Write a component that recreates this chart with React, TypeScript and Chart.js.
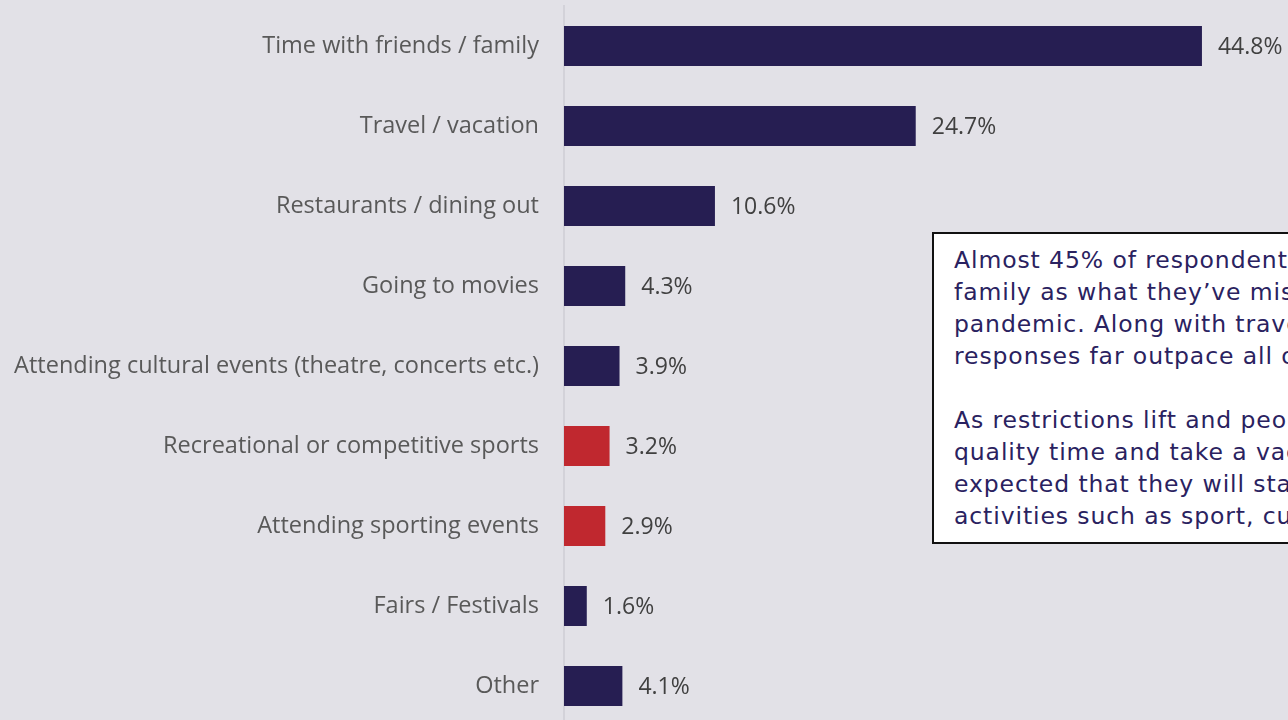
import React, { useEffect, useRef } from "react";
import { Chart, registerables } from "chart.js";

Chart.register(...registerables);

const categories = [
  "Time with friends / family",
  "Travel / vacation",
  "Restaurants / dining out",
  "Going to movies",
  "Attending cultural events (theatre, concerts etc.)",
  "Recreational or competitive sports",
  "Attending sporting events",
  "Fairs / Festivals",
  "Other",
];
const values = [44.8, 24.7, 10.6, 4.3, 3.9, 3.2, 2.9, 1.6, 4.1];
const highlighted = [false, false, false, false, false, true, true, false, false];

const noteParagraph1 = [
  "Almost 45% of respondents chose time with friends /",
  "family as what they\u2019ve missed most during the",
  "pandemic. Along with travel / vacation, these",
  "responses far outpace all other activities.",
];
const noteParagraph2 = [
  "As restrictions lift and people look to spend",
  "quality time and take a vacation, it is",
  "expected that they will start returning to",
  "activities such as sport, culture and events.",
];

const NAVY = "#261e52";
const RED = "#c0282f";
const BG = "#e2e1e7";

const valueLabels = {
  id: "valueLabels",
  afterDatasetsDraw(chart: any) {
    const ctx = chart.ctx;
    const meta = chart.getDatasetMeta(0);
    ctx.save();
    ctx.font = "23px 'Open Sans'";
    ctx.fillStyle = "#404040";
    ctx.textBaseline = "middle";
    ctx.textAlign = "left";
    meta.data.forEach((bar: any, i: number) => {
      ctx.fillText(values[i].toFixed(1) + "%", bar.x + 16, bar.y + 1);
    });
    ctx.restore();
  },
};

export default function App() {
  const ref = useRef<HTMLCanvasElement>(null);
  useEffect(() => {
    if (!ref.current) return;
    const chart = new Chart(ref.current, {
      type: "bar",
      data: {
        labels: categories,
        datasets: [
          {
            data: values,
            backgroundColor: highlighted.map((h) => (h ? RED : NAVY)),
            barPercentage: 0.5,
            categoryPercentage: 1,
          },
        ],
      },
      options: {
        indexAxis: "y",
        animation: false,
        responsive: false,
        layout: { padding: { top: 6, right: 12, bottom: 0, left: 0 } },
        plugins: { legend: { display: false }, tooltip: { enabled: false } },
        scales: {
          x: { display: false, min: 0, max: 50 },
          y: {
            afterFit: (scale: any) => {
              scale.width = 564;
              scale.paddingTop = 0;
              scale.paddingBottom = 0;
            },
            grid: { display: false, drawTicks: false },
            border: { display: true, color: "#d3d2d9", width: 2 },
            ticks: {
              color: "#595959",
              font: { family: "'Open Sans'", size: 23.5 },
              padding: 25,
            },
          },
        },
      },
      plugins: [valueLabels],
    });
    return () => chart.destroy();
  }, []);

  const lineStyle: React.CSSProperties = { whiteSpace: "nowrap", height: 32, lineHeight: "32px" };
  return (
    <div
      style={{
        position: "fixed",
        left: 0,
        top: 0,
        width: 1288,
        height: 720,
        overflow: "hidden",
        background: BG,
      }}
    >
      <canvas ref={ref} width={1288} height={726} style={{ position: "absolute", left: 0, top: 0 }} />
      <div
        style={{
          position: "absolute",
          left: 932,
          top: 232,
          width: 620,
          height: 312,
          background: "#ffffff",
          border: "2px solid #111111",
          boxSizing: "border-box",
          padding: "10px 0 0 20px",
          color: "#2a2260",
          fontFamily: "'DejaVu Sans'",
          fontSize: 23.5,
          letterSpacing: "0.9px",
        }}
      >
        {noteParagraph1.map((t, i) => (
          <div key={"a" + i} style={lineStyle}>{t}</div>
        ))}
        <div style={lineStyle}>&nbsp;</div>
        {noteParagraph2.map((t, i) => (
          <div key={"b" + i} style={lineStyle}>{t}</div>
        ))}
      </div>
    </div>
  );
}
